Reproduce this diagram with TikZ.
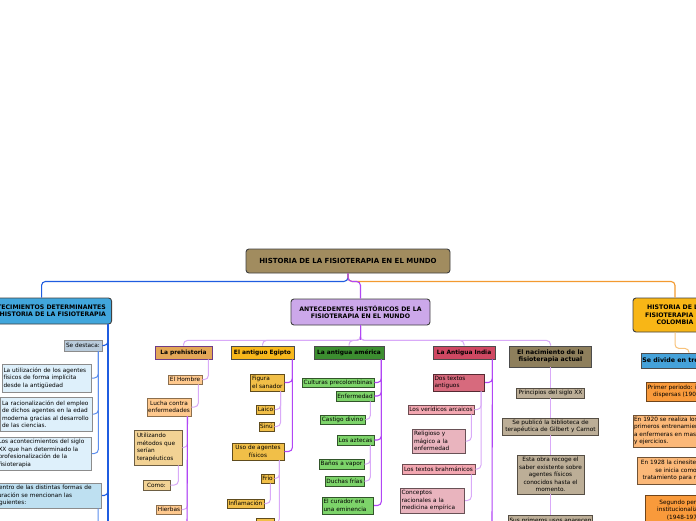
\documentclass[tikz,border=0pt]{standalone}
\usepackage{fontspec}
\setmainfont{DejaVu Sans}
\usetikzlibrary{positioning}

\definecolor{mundofill}{HTML}{A18C5F}
\definecolor{acontfill}{HTML}{41A6DC}
\definecolor{antecfill}{HTML}{CCA8EA}
\definecolor{colfill}{HTML}{F8B616}
\definecolor{prehfill}{HTML}{E3A757}
\definecolor{prehline}{HTML}{6E3C86}
\definecolor{egifill}{HTML}{F7B81B}
\definecolor{amerfill}{HTML}{3C8E30}
\definecolor{indfill}{HTML}{CF4862}
\definecolor{nacfill}{HTML}{8E7F5C}
\definecolor{tresfill}{HTML}{45A2DA}
\definecolor{destfill}{HTML}{B9CBDB}
\definecolor{lbluefill}{HTML}{DEF0FB}
\definecolor{formfill}{HTML}{BEE0F1}
\definecolor{peach}{HTML}{FFC98E}
\definecolor{tan}{HTML}{F2D294}
\definecolor{egleaf}{HTML}{F1BF48}
\definecolor{amleaf}{HTML}{7DD46A}
\definecolor{indark}{HTML}{D76A7D}
\definecolor{inpink}{HTML}{F3A7B1}
\definecolor{inlight}{HTML}{E9B4BE}
\definecolor{nacleaf}{HTML}{BCAE97}
\definecolor{orgdark}{HTML}{F99A3B}
\definecolor{orglight}{HTML}{FBB878}
\definecolor{wblue}{HTML}{1F5CE0}
\definecolor{wlblue}{HTML}{5C8EEE}
\definecolor{worange}{HTML}{F39A30}
\definecolor{wlorange}{HTML}{F8C27A}
\definecolor{wpurple}{HTML}{B146F5}
\definecolor{wlav}{HTML}{D9AAF8}

\begin{document}
\begin{tikzpicture}[x=1pt, y=-1pt, thick,
    every node/.style={draw, inner sep=1.2pt, font=\fontsize{5.8}{7.5}\selectfont},
    sz/.style 2 args={minimum width=#1, minimum height=#2},
    mainbox/.style={rounded corners=3pt, line width=0.9pt, draw=black!75, align=center,
        font=\bfseries\fontsize{6.2}{7.4}\selectfont},
    topicbox/.style={line width=0.8pt, draw=black!70, align=center,
        font=\bfseries\fontsize{5.9}{7.2}\selectfont},
    leafbox/.style={line width=0.7pt, align=center},
    leftbox/.style={leafbox, align=left},
    bluew/.style={draw=wblue, line width=1.1pt, rounded corners=4pt},
    lbluew/.style={draw=wlblue, line width=1pt, rounded corners=4pt},
    orangew/.style={draw=worange, line width=1.1pt, rounded corners=4pt},
    lorangew/.style={draw=wlorange, line width=1pt, rounded corners=4pt},
    purplew/.style={draw=wpurple, line width=1.1pt, rounded corners=4pt},
    lavw/.style={draw=wlav, line width=1pt, rounded corners=4pt}]

    \useasboundingbox (0,0) rectangle (696,520);
    \clip (0,0) rectangle (696,520);
    \fill[white] (0,0) rectangle (696,520);

    % main ideas
    \node[mainbox, fill=mundofill, sz={204}{24}, font=\bfseries\fontsize{7}{8}\selectfont] (mundo) at (348,261) {HISTORIA DE LA FISIOTERAPIA EN EL MUNDO};
    \node[mainbox, fill=acontfill, sz={140}{26}, anchor=east] (acont) at (112,311) {ACONTECIMIENTOS DETERMINANTES\\EN LA HISTORIA DE LA FISIOTERAPIA};
    \node[mainbox, fill=antecfill, sz={139}{26}] (antec) at (360.5,312) {ANTECEDENTES HISTÓRICOS DE LA\\FISIOTERAPIA EN EL MUNDO};
    \node[mainbox, fill=colfill, sz={84}{34}] (colombia) at (675,315) {HISTORIA DE LA\\FISIOTERAPIA EN\\COLOMBIA};

    \path[draw, bluew] (mundo.south) -- ++(0,8) -| (acont.north);
    \path[draw, orangew] (mundo.south) -- ++(0,8) -| (colombia.north);
    \path[draw, purplew] (mundo.south) -- ++(0,8) -| (antec.north);

    % topics
    \node[topicbox, fill=prehfill, draw=prehline, sz={57}{13}] (preh) at (183.5,352.5) {La prehistoria};
    \node[topicbox, fill=egifill, sz={63}{13}] (egipto) at (262.5,352.5) {El antiguo Egipto};
    \node[topicbox, fill=amerfill, sz={70}{13}] (america) at (349,352.5) {La antigua américa};
    \node[topicbox, fill=indfill, sz={62}{13}] (india) at (464,352.5) {La Antigua India};
    \node[topicbox, fill=nacfill, sz={82}{21}, font=\bfseries\fontsize{6.2}{7.4}\selectfont] (nacim) at (550.5,356.5) {El nacimiento de la\\fisioterapia actual};
    \node[topicbox, fill=tresfill, sz={96}{15}, font=\bfseries\fontsize{6.3}{7.5}\selectfont] (tres) at (689,360.5) {Se divide en tres periodos};

    \foreach \t in {preh,egipto,america,india,nacim}
        \path[draw, lavw] (antec.south) -- ++(0,15) -| (\t.north);
    \path[draw, purplew] (antec.south) -- ++(0,15);
    \path[draw, lorangew] (colombia.south) -- ++(0,16) -| (tres.north);

    % acontecimientos
    \node[leafbox, fill=destfill, draw=black!45, sz={38}{11}] (destaca) at (83,345.5) {Se destaca:};
    \node[leftbox, fill=lbluefill, draw=black!45, text width=87, minimum height=28] (agentes) at (47,378) {La utilización de los agentes\\físicos de forma implícita\\desde la antigüedad};
    \node[leftbox, fill=lbluefill, draw=black!45, text width=89, minimum height=34] (racional) at (46.5,414) {La racionalización del empleo\\de dichos agentes en la edad\\moderna gracias al desarrollo\\de las ciencias.};
    \node[leftbox, fill=lbluefill, draw=black!45, text width=92, minimum height=33] (sigloxx) at (44.5,453.5) {Los acontecimientos del siglo\\XX que han determinado la\\profesionalización de la\\fisioterapia};
    \node[leftbox, fill=formfill, draw=black!45, text width=106, minimum height=25] (formas) at (47.6,495.5) {Dentro de las distintas formas de\\curación se mencionan las\\siguientes:};
    \coordinate (acontend) at (108,530);
    \coordinate (formasend) at (98,530);

    \path[draw, bluew] ([xshift=-4]acont.south east) -- (acontend);
    \path[draw, bluew] ([xshift=-4]acont.south east) |- (destaca.east);
    \path[draw, bluew] ([xshift=-4]acont.south east) |- (formas.east);
    \foreach \n in {agentes,racional,sigloxx}
        \path[draw, lbluew] ([xshift=-4]destaca.south east) |- (\n.east);
    \path[draw, lbluew] ([xshift=-4]formas.south east) -- (formasend);

    % prehistoria
    \node[leafbox, fill=peach, draw=peach!55!black, sz={34}{9}] (hombre) at (185,379.5) {El Hombre};
    \node[leafbox, fill=peach, draw=peach!55!black, sz={44}{18}] (lucha) at (169,407) {Lucha contra\\enfermedades};
    \node[leftbox, fill=tan, draw=tan!45!black, inner sep=3pt, text width=42, minimum height=35] (metodos) at (158,447.5) {Utilizando\\métodos que\\serían\\terapéuticos};
    \node[leafbox, fill=tan, draw=tan!45!black, sz={27}{10}] (como) at (156.5,485) {Como:};
    \node[leafbox, fill=peach, draw=peach!55!black, sz={24}{9}] (hierbas) at (169,509.5) {Hierbas};
    \coordinate (prehend) at (187,530);

    \path[draw, lavw] ([xshift=-4]preh.south east) |- (hombre.east);
    \path[draw, lavw] ([xshift=-4]hombre.south east) |- (lucha.east);
    \path[draw, lavw] ([xshift=-4]lucha.south east) |- (metodos.east);
    \path[draw, lavw] ([xshift=-4]lucha.south east) |- (hierbas.east);
    \path[draw, purplew] ([xshift=-4]lucha.south east) -- (prehend);
    \path[draw, lavw] ([xshift=-4]metodos.south east) |- (como.east);

    % egipto
    \node[leftbox, fill=egleaf, draw=egleaf!40!black, text width=31, minimum height=17] (figura) at (267.5,382.5) {Figura\\el sanador};
    \node[leafbox, fill=egleaf, draw=egleaf!40!black, sz={17}{9}] (laico) at (265.5,409.5) {Laico};
    \node[leafbox, fill=egleaf, draw=egleaf!40!black, sz={15}{9}] (sinu) at (266.5,426.5) {Sinú};
    \node[leafbox, fill=egleaf, draw=egleaf!40!black, sz={52}{17}] (uso) at (258,451.5) {Uso de agentes\\físicos};
    \node[leafbox, fill=egleaf, draw=egleaf!40!black, sz={13}{9}] (frio) at (267.5,478.5) {Frío};
    \node[leafbox, fill=egleaf, draw=egleaf!40!black, sz={37}{9}] (inflam) at (245.5,503.5) {Inflamación};
    \node[leafbox, fill=egleaf, draw=egleaf!40!black, sz={18}{10}] (egcut) at (265,523) {};

    \path[draw, purplew] ([xshift=-2]egipto.south east) |- (figura.east);
    \path[draw, purplew] ([xshift=-2]egipto.south east) |- (uso.east);
    \path[draw, lavw] ([xshift=-4]figura.south east) |- (laico.east);
    \path[draw, lavw] ([xshift=-4]figura.south east) |- (sinu.east);
    \path[draw, lavw] ([xshift=-5]uso.south east) |- (frio.east);
    \path[draw, lavw] ([xshift=-5]uso.south east) |- (egcut.east);
    \path[draw, lavw] ([xshift=-4]frio.south east) |- (inflam.east);

    % america
    \node[leafbox, fill=amleaf, draw=amleaf!40!black, sz={72}{9}] (precol) at (338,382.5) {Culturas precolombinas};
    \node[leafbox, fill=amleaf, draw=amleaf!40!black, sz={38}{10}] (enferm) at (355,396) {Enfermedad};
    \node[leafbox, fill=amleaf, draw=amleaf!40!black, sz={45}{9}] (castigo) at (342.5,419.5) {Castigo divino};
    \node[leafbox, fill=amleaf, draw=amleaf!40!black, sz={37}{10}] (aztecas) at (355.5,440) {Los aztecas};
    \node[leafbox, fill=amleaf, draw=amleaf!40!black, sz={45}{10}] (vapor) at (341.5,464) {Baños a vapor};
    \node[leafbox, fill=amleaf, draw=amleaf!40!black, sz={39}{10}] (duchas) at (344.5,481) {Duchas frías};
    \node[leftbox, fill=amleaf, draw=amleaf!40!black, text width=49, minimum height=17] (curador) at (348,505.5) {El curador era\\una eminencia};

    \foreach \n in {precol,enferm,aztecas,curador}
        \path[draw, purplew] ([xshift=-3]america.south east) |- (\n.east);
    \path[draw, lavw] ([xshift=-4]enferm.south east) |- (castigo.east);
    \foreach \n in {vapor,duchas}
        \path[draw, lavw] ([xshift=-4]aztecas.south east) |- (\n.east);

    % india
    \node[leftbox, fill=indark, draw=indark!40!black, text width=49, minimum height=17] (textos) at (459,382.5) {Dos textos\\antiguos};
    \node[leafbox, fill=inpink, draw=inpink!45!black, sz={66}{9}] (arcaicos) at (441,409.5) {Los verídicos arcaicos};
    \node[leftbox, fill=inlight, draw=inlight!45!black, text width=50, minimum height=24] (magico) at (439,441) {Religioso y\\mágico a la\\enfermedad};
    \node[leafbox, fill=inpink, draw=inpink!45!black, sz={73}{10}] (brahman) at (438.5,469) {Los textos brahmánicos};
    \node[leftbox, fill=inlight, draw=inlight!45!black, text width=62, minimum height=25] (empirica) at (432.5,500.5) {Conceptos\\racionales a la\\medicina empírica};
    \coordinate (indiaend) at (492,530);

    \path[draw, purplew] ([xshift=-3]india.south east) |- (textos.east);
    \path[draw, purplew] ([xshift=-3]india.south east) -- (indiaend);
    \path[draw, lavw] ([xshift=-4]textos.south east) |- (arcaicos.east);
    \path[draw, lavw] ([xshift=-4]textos.south east) |- (brahman.east);
    \path[draw, lavw] ([xshift=-3]arcaicos.south east) |- (magico.east);
    \path[draw, lavw] ([xshift=-4]brahman.south east) |- (empirica.east);

    % nacimiento
    \node[leafbox, fill=nacleaf, draw=nacleaf!45!black, sz={68}{10}] (siglo) at (550.5,393) {Principios del siglo XX};
    \node[leafbox, fill=nacleaf, draw=nacleaf!45!black, sz={96}{17}] (biblio) at (550.5,426.5) {Se publicó la biblioteca de\\terapéutica de Gilbert y Carnot};
    \node[leafbox, fill=nacleaf, draw=nacleaf!45!black, sz={67}{39}] (obra) at (550.5,474.5) {Esta obra recoge el\\saber existente sobre\\agentes físicos\\conocidos hasta el\\momento.};
    \node[leafbox, fill=nacleaf, draw=nacleaf!45!black, sz={81}{12}, anchor=north] (usos) at (550.5,515) {Sus primeros usos aparecen};

    \path[draw, lavw] (nacim) -- (siglo) -- (biblio) -- (obra) -- (usos);

    % colombia
    \node[leafbox, fill=orgdark, draw=orgdark!45!black, sz={78}{19}] (primero) at (686,391.5) {Primer periodo: iniciativas\\dispersas (1904-1947)};
    \node[leftbox, fill=orglight, draw=orglight!45!black, inner sep=1pt, text width=76, minimum height=32] (en1920) at (672,431) {En 1920 se realiza los\\primeros entrenamientos\\a enfermeras en masaje\\y ejercicios.};
    \node[leafbox, fill=orglight, draw=orglight!45!black, sz={78}{27}] (en1928) at (676,470.5) {En 1928 la cinesiterapia\\se inicia como\\tratamiento para niños};
    \node[leafbox, fill=orgdark, draw=orgdark!45!black, sz={80}{30}] (segundo) at (685,510) {Segundo periodo:\\institucionalización\\(1948-1970)};
\end{tikzpicture}
\end{document}
